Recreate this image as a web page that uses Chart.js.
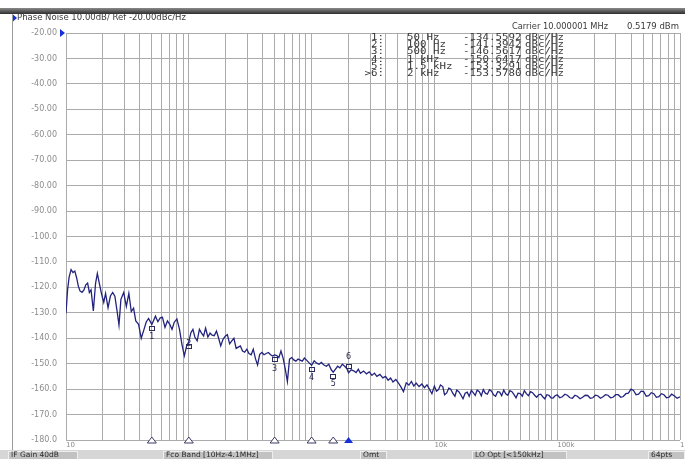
<!DOCTYPE html>
<html>
<head>
<meta charset="utf-8">
<script src="https://cdn.jsdelivr.net/npm/chart.js@4.4.1/dist/chart.umd.min.js"></script>
<style>
  html, body { margin: 0; padding: 0; background: #fff; }
  canvas { display: block; }
</style>
</head>
<body>
<canvas id="graph" width="685" height="459"></canvas>
<script>
// offset frequency (Hz) and phase noise (dBc/Hz), one pair of arrays per decade
const freqDec1 = [10, 10.3, 10.6, 11, 11.4, 11.8, 12.2, 12.6, 13, 13.5, 14, 14.5, 15, 15.5, 16, 16.7, 17.4, 18, 18.7, 19.5,
  20.3, 21, 22, 23, 24, 25, 26, 27, 28, 29.5, 31, 32.5, 34, 35.5, 37, 39, 41, 43, 45, 47,
  50, 53.5, 56, 58.5, 61, 64, 67, 70, 73, 76, 80, 84, 88, 92, 96]
const noiseDec1 = [-130.2, -121, -116, -113, -114.2, -113.6, -116.2, -119.5, -121.4, -122, -121, -119, -118.3, -122, -121, -129.3, -118.5, -114.5, -118.5, -122.7,
  -125.9, -122.4, -128, -123.4, -122, -123.5, -129, -134.8, -124.7, -122, -127.5, -122.3, -129.5, -128.2, -133.2, -134.5, -140, -136.8, -133.6, -132.2,
  -134.56, -131.3, -133.5, -132, -131.8, -135.7, -133.2, -134.5, -136.5, -133.8, -132.4, -136.5, -142.5, -146.9, -143]

const freqDec2 = [100, 104, 108, 112, 117, 122, 127, 132, 137, 143, 149, 155, 161, 168, 175, 182, 190, 198, 206, 215,
  224, 233, 243, 253, 263, 274, 285, 297, 309, 322, 335, 349, 363, 378, 394, 410, 427, 445, 463, 482,
  500, 520, 541, 563, 586, 610, 635, 661, 688, 716, 745, 775, 807, 840, 874, 910, 947]
const noiseDec2 = [-141.39, -137.8, -136.5, -139.5, -141, -136.5, -138, -139.1, -136, -139.5, -138, -138.8, -139, -137.2, -140, -143, -140.4, -139.2, -138.6, -142.2,
  -141, -140, -144, -143.5, -143, -145, -145.5, -144.3, -146, -146.5, -144.3, -148, -150.5, -146.3, -145.6, -146.5, -146, -145.6, -146.5, -147,
  -146.56, -146.8, -147.6, -145, -147.8, -152, -157, -148.2, -147.6, -148.5, -149, -148.2, -148.6, -149, -147.8, -148.6, -149.5]

const freqDec3 = [1000, 1050, 1100, 1150, 1200, 1260, 1320, 1380, 1450, 1500, 1560, 1630, 1700, 1780, 1860, 1940, 2000, 2100, 2200, 2300,
  2400, 2500, 2650, 2800, 2950, 3100, 3250, 3400, 3600, 3800, 4000, 4200, 4400, 4600, 4850, 5100, 5350, 5600, 5900, 6200,
  6500, 6800, 7100, 7500, 7900, 8300, 8700, 9100, 9550]
const noiseDec3 = [-150.64, -148.9, -149.8, -150.2, -149.5, -150.5, -151, -150.2, -152.5, -153.33, -152.2, -151, -151.6, -150.2, -151, -152, -153.58, -152.4, -152.8, -153.5,
  -152.2, -153.8, -152.9, -154, -153.2, -154.6, -153.7, -155, -154.2, -155.6, -155, -156.5, -155.6, -157.2, -156.2, -157.6, -159.2, -161, -157.5, -158.4,
  -157, -158.8, -157.6, -159, -158, -159.4, -158.3, -160, -161.8]

const freqDec4 = [10000, 10400, 10800, 11200, 11700, 12100, 12600, 13100, 13600, 14100, 14700, 15200, 15800, 16400, 17100,
  17800, 18500, 19200, 20000, 20700, 21500, 22300, 23200, 24100, 25000, 26000, 27000, 28100, 29200, 30300,
  31500, 32700, 34000, 35300, 36700, 38100, 39600, 41200, 42800, 44500, 46200, 48000, 50000, 52000, 54000,
  56100, 58300, 60600, 63000, 65500, 68000, 70700, 73400, 76300, 79300, 82400, 85600, 89000, 92500, 96200]
const noiseDec4 = [-158.8, -160.8, -160.2, -158.4, -159, -162.2, -161.5, -159.6, -160, -161.6, -162.8, -160.4, -161, -162.2, -163.8,
  -161.6, -161.2, -162.8, -160.5, -161.4, -162.5, -160.4, -161, -162.6, -160.2, -161.6, -162, -160.2, -160.8, -162.2,
  -162.8, -161, -161.2, -162.6, -160.4, -161.8, -162.4, -160.6, -161, -162.2, -163.4, -161.6, -161.8, -162.8, -160.6,
  -161.8, -162.6, -161, -161.4, -162.4, -163.2, -162.2, -162, -163, -163.8, -162.2, -162.4, -163.4, -163.5, -162.6]

const freqDec5 = [100000, 105000, 110000, 115500, 121000, 127000, 133000, 139500, 146000, 153500, 161000, 169000, 177000,
  186000, 195000, 204500, 214000, 225000, 236000, 247500, 259000, 272000, 285000, 299500, 314000, 329500, 345000,
  362500, 380000, 399000, 418000, 439000, 460000, 483000, 506000, 531000, 556000, 584000, 612000, 642500, 673000,
  706500, 740000, 777000, 814000, 855000, 896000, 947000, 1000000]
const noiseDec5 = [-162.2, -163.4, -163, -162, -162.4, -163.4, -163.6, -162.4, -162.8, -163.8, -163.2, -162.4, -162.5,
  -163.6, -163.4, -162.4, -162.6, -163.6, -163, -162.2, -162.4, -163.4, -163.2, -162.2, -162.2, -163.2, -162.9,
  -161.8, -161.6, -160, -160.5, -162.2, -162, -160.8, -161, -162.8, -162.6, -161.4, -161.8, -163.2, -163,
  -161.8, -162.2, -163.4, -163.2, -162, -162.6, -163.6, -163]

// marker table
const markerIds = ['1:', '2:', '3:', '4:', '5:', '>6:']
const markerFreqHz = [50, 100, 500, 1000, 1500, 2000]
const markerFreqText = ['50 Hz', '100 Hz', '500 Hz', '1 kHz', '1.5 kHz', '2 kHz']
const markerDbc = [-134.5592, -141.3942, -146.5617, -150.6417, -153.3291, -153.5780]
const markerNums = ['1', '2', '3', '4', '5', '6']

// axes
const yTickValues = [-20, -30, -40, -50, -60, -70, -80, -90, -100, -110, -120, -130, -140, -150, -160, -170, -180]
const yTickLabels = ['-20.00', '-30.00', '-40.00', '-50.00', '-60.00', '-70.00', '-80.00', '-90.00',
  '-100.0', '-110.0', '-120.0', '-130.0', '-140.0', '-150.0', '-160.0', '-170.0', '-180.0']
const xDecades = [10, 100, 1000, 10000, 100000]
const xLabelTicks = [10, 10000, 100000, 1000000]
const xLabelText = ['10', '10k', '100k', '1M']

// annotation text
const headerLeft = 'Phase Noise 10.00dB/ Ref -20.00dBc/Hz'
const carrierText = 'Carrier 10.000001 MHz'
const powerText = '0.5179 dBm'
const statusItems = ['IF Gain 40dB', 'Fco Band [10Hz-4.1MHz]', 'Omt', 'LO Opt [<150kHz]', '64pts']


/**
 * Look and feel of the analyser screen.
 */
const STYLE = Object.freeze({
  trace: '#23237e',
  grid: '#ababab',
  text: '#3a3a3a',
  axisText: '#8c8c8c',
  markerBlue: '#1530d8',
  font: '"DejaVu Sans", sans-serif',
  mono: '"DejaVu Sans Mono", monospace',
})

// where the marker numbers sit relative to the marker point
const MARKER_LABEL_DY = [13, 2, 14, 13, 12, -16]
const STATUS_BOXES = [[8, 70], [163, 110], [360, 27], [472, 95], [648, 37]]


const freqHz = [].concat(freqDec1, freqDec2, freqDec3, freqDec4, freqDec5)
const noiseDbc = [].concat(noiseDec1, noiseDec2, noiseDec3, noiseDec4, noiseDec5)

const gridFreqs = []
xDecades.forEach((d) => {
  for (let m = 1; m <= 9; m++) gridFreqs.push(d * m)
})
gridFreqs.push(1000000)


function triangle(ctx, x, y, w, h, dir) {
  ctx.beginPath()
  if (dir === 'right') {
    ctx.moveTo(x, y - h / 2)
    ctx.lineTo(x + w, y)
    ctx.lineTo(x, y + h / 2)
  } else {
    ctx.moveTo(x - w / 2, y)
    ctx.lineTo(x, y - h)
    ctx.lineTo(x + w / 2, y)
  }
  ctx.closePath()
}

/**
 * Wide monospace text like the analyser's marker table.
 */
function wideText(ctx, txt, x, y, align) {
  const stretch = 1.27
  const w = ctx.measureText(txt).width * stretch
  ctx.save()
  ctx.translate(align === 'right' ? x - w : x, y)
  ctx.scale(stretch, 1)
  ctx.textAlign = 'left'
  ctx.fillText(txt, 0, 0)
  ctx.restore()
}

/**
 * Draws the instrument screen around the plot: header, marker
 * table, marker symbols and the status bar.
 */
const screenPlugin = {
  id: 'screen',
  beforeDraw(chart) {
    const ctx = chart.ctx
    ctx.save()
    ctx.fillStyle = '#fff'
    ctx.fillRect(0, 0, chart.width, chart.height)

    // window bar at the top
    const g = ctx.createLinearGradient(0, 8, 0, 14)
    g.addColorStop(0, '#8a8a8a')
    g.addColorStop(1, '#2e2e2e')
    ctx.fillStyle = g
    ctx.fillRect(0, 8, chart.width, 6)

    // left panel edge
    ctx.strokeStyle = '#9c9c9c'
    ctx.lineWidth = 1
    ctx.beginPath()
    ctx.moveTo(12.5, 14)
    ctx.lineTo(12.5, 451)
    ctx.stroke()

    ctx.fillStyle = STYLE.markerBlue
    triangle(ctx, 13, 18, 4, 7, 'right')
    ctx.fill()

    ctx.fillStyle = STYLE.text
    ctx.font = '8.5px ' + STYLE.font
    ctx.textBaseline = 'middle'
    ctx.textAlign = 'left'
    ctx.fillText(headerLeft, 17, 18, 176)
    ctx.font = '8.5px ' + STYLE.font
    ctx.fillText(carrierText, 512, 27, 96)
    ctx.fillText(powerText, 627, 27, 55)
    ctx.restore()
  },
  afterDraw(chart) {
    const ctx = chart.ctx
    const xs = chart.scales.x
    const ys = chart.scales.y
    const area = chart.chartArea
    ctx.save()

    // reference level arrow
    ctx.fillStyle = STYLE.markerBlue
    triangle(ctx, 60, ys.getPixelForValue(-20), 5, 8, 'right')
    ctx.fill()

    // marker table
    ctx.font = '8.5px ' + STYLE.mono
    ctx.fillStyle = STYLE.text
    ctx.textBaseline = 'middle'
    markerIds.forEach((id, i) => {
      const y = 38 + i * 7.1
      wideText(ctx, id, 384, y, 'right')
      wideText(ctx, markerFreqText[i], 407, y)
      wideText(ctx, markerDbc[i].toFixed(4), 463, y)
      wideText(ctx, 'dBc/Hz', 525, y)
    })

    // markers on the trace and at the bottom edge
    ctx.font = '8px ' + STYLE.font
    ctx.textAlign = 'center'
    markerFreqHz.forEach((f, i) => {
      const px = xs.getPixelForValue(f)
      const py = ys.getPixelForValue(markerDbc[i])
      ctx.strokeStyle = '#2a2a60'
      ctx.lineWidth = 1
      ctx.strokeRect(Math.round(px) - 2.5, Math.round(py) + (i === 5 ? -8.5 : 2.5), 5, 4)
      ctx.fillStyle = '#2a2a50'
      ctx.fillText(markerNums[i], px, py + MARKER_LABEL_DY[i])

      triangle(ctx, px, area.bottom + 3, 9, 6, 'up')
      if (i === 5) {
        ctx.fillStyle = STYLE.markerBlue
        ctx.fill()
      } else {
        ctx.fillStyle = '#fff'
        ctx.fill()
        ctx.strokeStyle = '#3c3c64'
        ctx.stroke()
      }
    })

    // status bar
    ctx.fillStyle = '#d6d6d6'
    ctx.fillRect(0, 450, chart.width, 9)
    ctx.font = '7.5px ' + STYLE.font
    ctx.textAlign = 'left'
    statusItems.forEach((txt, i) => {
      const [bx, bw] = STATUS_BOXES[i]
      ctx.fillStyle = '#c2c2c2'
      ctx.fillRect(bx, 451, bw, 8)
      ctx.strokeStyle = '#efefef'
      ctx.strokeRect(bx + 0.5, 451.5, bw - 1, 8)
      ctx.fillStyle = '#2a2a2a'
      ctx.fillText(txt, bx + 3, 455.5, bw - 5)
    })
    ctx.restore()
  },
}

const ctx = document.getElementById('graph').getContext('2d')

const graph = new Chart(ctx, {
  type: 'line',
  data: {
    datasets: [
      {
        data: freqHz.map((f, i) => ({ x: f, y: noiseDbc[i] })),
        borderColor: STYLE.trace,
        borderWidth: 1.3,
        pointRadius: 0,
        tension: 0,
        fill: false,
      },
    ],
  },
  options: {
    responsive: false,
    animation: false,
    devicePixelRatio: 1,
    layout: { padding: { top: 33, right: 5, left: 0, bottom: 0 } },
    plugins: { legend: { display: false }, tooltip: { enabled: false } },
    scales: {
      x: {
        type: 'logarithmic',
        min: 10,
        max: 1000000,
        afterBuildTicks: (s) => { s.ticks = gridFreqs.map((v) => ({ value: v })) },
        afterFit: (s) => {
          s.height = 19
          s.paddingLeft = 0
          s.paddingRight = 0
        },
        ticks: {
          autoSkip: false,
          maxRotation: 0,
          align: 'start',
          padding: 1,
          color: STYLE.axisText,
          font: { family: STYLE.font, size: 7 },
          callback: (v) => {
            const k = xLabelTicks.indexOf(v)
            return k >= 0 ? xLabelText[k] : ''
          },
        },
        grid: { color: STYLE.grid, lineWidth: 1, drawTicks: false },
        border: { display: false },
      },
      y: {
        min: -180,
        max: -20,
        afterBuildTicks: (s) => { s.ticks = yTickValues.map((v) => ({ value: v })) },
        afterFit: (s) => { s.width = 66 },
        ticks: {
          padding: 9,
          color: STYLE.axisText,
          font: { family: STYLE.font, size: 8 },
          callback: (v) => yTickLabels[yTickValues.indexOf(v)],
        },
        grid: { color: STYLE.grid, lineWidth: 1, drawTicks: false },
        border: { display: false },
      },
    },
  },
  plugins: [screenPlugin],
})
</script>
</body>
</html>
